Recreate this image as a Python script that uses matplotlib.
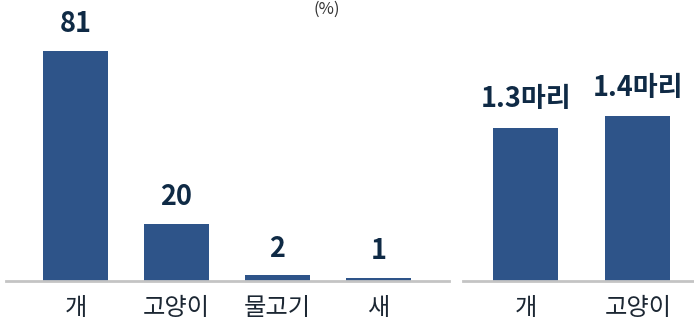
import matplotlib
matplotlib.use("Agg")
import matplotlib.pyplot as plt

plt.rcParams['font.family'] = ['Noto Sans CJK KR', 'DejaVu Sans']

pet_types = ["개", "고양이", "물고기", "새"]
pet_share = [81, 20, 2, 1]
share_labels = ["81", "20", "2", "1"]

avg_types = ["개", "고양이"]
avg_count = [1.3, 1.4]
avg_labels = ["1.3마리", "1.4마리"]

BAR = "#2e5489"
TXT = "#0f2a45"
TICK = "#1c2733"
BASE = "#c4c4c4"

W, H = 694, 321
fig = plt.figure(figsize=(W / 100, H / 100), dpi=100)

ax1 = fig.add_axes([6 / W, (H - 281) / H, (449 - 6) / W, 281 / H])
ax2 = fig.add_axes([463 / W, (H - 281) / H, (694 - 463) / W, 281 / H])


def style(ax):
    for s in ["top", "right", "left"]:
        ax.spines[s].set_visible(False)
    ax.spines["bottom"].set_color(BASE)
    ax.spines["bottom"].set_linewidth(2)
    ax.set_yticks([])
    ax.tick_params(axis="x", length=0, pad=10, labelsize=17.5, labelcolor=TICK)


x1 = range(len(pet_types))
ax1.bar(x1, pet_share, width=0.64, color=BAR)
ax1.set_xticks(list(x1))
ax1.set_xticklabels(pet_types)
ax1.set_xlim(-0.69, 3.7)
ax1.set_ylim(0, 99)
style(ax1)
for i, (v, t) in enumerate(zip(pet_share, share_labels)):
    ax1.annotate(t, (i, v), xytext=(0, 13.5), textcoords="offset points",
                 ha="center", va="baseline", fontsize=19.5, fontweight="bold", color=TXT)

x2 = range(len(avg_types))
ax2.bar(x2, avg_count, width=0.58, color=BAR)
ax2.set_xticks(list(x2))
ax2.set_xticklabels(avg_types)
ax2.set_xlim(-0.56, 1.5)
ax2.set_ylim(0, 2.39)
style(ax2)
for i, (v, t) in enumerate(zip(avg_count, avg_labels)):
    ax2.annotate(t, (i, v), xytext=(0, 15), textcoords="offset points",
                 ha="center", va="baseline", fontsize=19.5, fontweight="bold", color=TXT)

fig.text(327 / W, 1 - 9 / H, "(%)", ha="center", va="center", fontsize=12, color="#333333")

fig.savefig("out.png", dpi=100)
